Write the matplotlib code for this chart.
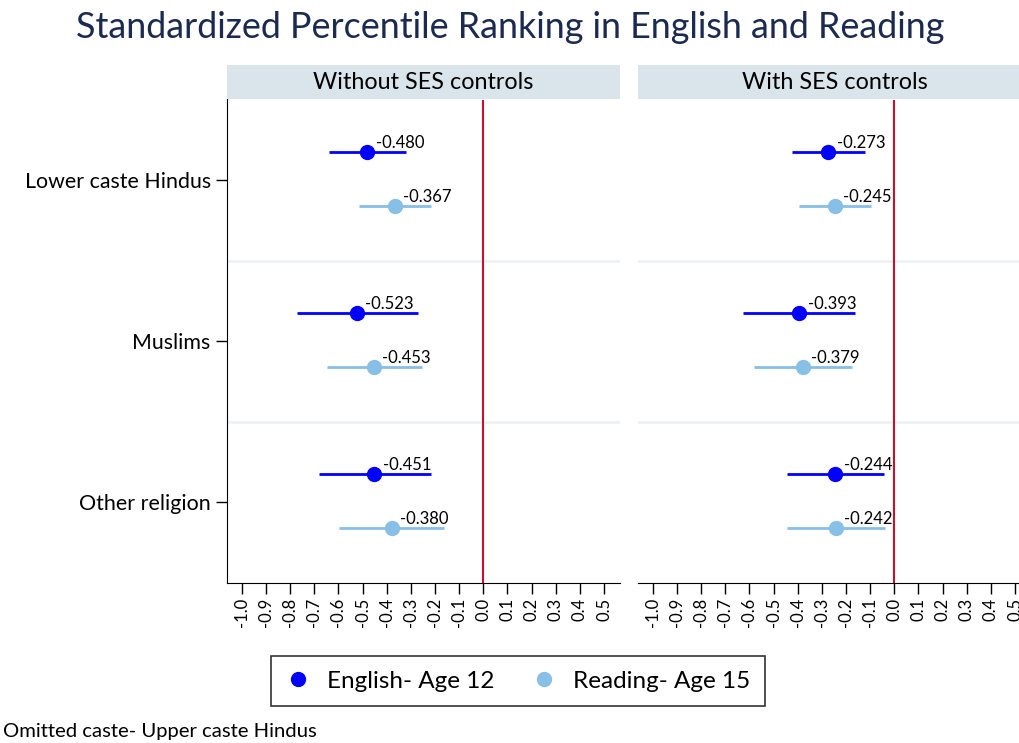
import numpy as np
import matplotlib.pyplot as plt
from matplotlib.lines import Line2D

plt.rcParams['font.family'] = ['Lato', 'DejaVu Sans']

groups = ['Lower caste Hindus', 'Muslims', 'Other religion']
panels = ['Without SES controls', 'With SES controls']

# point estimates and CI bounds, per panel: [lower caste, muslims, other]
english_est = [[-0.480, -0.523, -0.451], [-0.273, -0.393, -0.244]]
english_lo = [[-0.637, -0.772, -0.681], [-0.423, -0.625, -0.446]]
english_hi = [[-0.321, -0.271, -0.216], [-0.121, -0.161, -0.043]]
reading_est = [[-0.367, -0.453, -0.380], [-0.245, -0.379, -0.242]]
reading_lo = [[-0.514, -0.648, -0.596], [-0.393, -0.582, -0.446]]
reading_hi = [[-0.216, -0.255, -0.161], [-0.097, -0.177, -0.039]]

xticks = np.round(np.arange(-1.0, 0.51, 0.1), 1)

c_eng = '#0000ff'
c_read = '#87bfe6'
W, H = 1020, 743


def px(x0, y0, x1, y1):
    # pixel box -> figure fraction rect
    return [x0 / W, 1 - y1 / H, (x1 - x0) / W, (y1 - y0) / H]


def main():
    fig = plt.figure(figsize=(W / 100, H / 100), dpi=100)
    fig.text(0.5, 1 - 28 / H, 'Standardized Percentile Ranking in English and Reading',
             ha='center', va='center', fontsize=25.8, color='#1b2a50')

    lefts = [227.3, 638.3]
    for p in range(2):
        x0 = lefts[p]
        ax = fig.add_axes(px(x0, 99.5, x0 + 392.7, 582.7))
        hdr = fig.add_axes(px(x0, 65, x0 + 392.7, 99.3))
        hdr.set_facecolor('#dae5eb')
        hdr.set_xticks([])
        hdr.set_yticks([])
        for s in hdr.spines.values():
            s.set_visible(False)
        hdr.text(0.5, 0.48, panels[p], ha='center', va='center', fontsize=16.8,
                 transform=hdr.transAxes)

        yc = np.arange(3)
        ye = yc - 0.175
        yr = yc + 0.16
        ax.axhline(0.5, color='#eef2f4', lw=2, zorder=0)
        ax.axhline(1.5, color='#eef2f4', lw=2, zorder=0)
        ax.axvline(0, color='#c8102e', lw=1.5, zorder=1)
        ax.hlines(ye, english_lo[p], english_hi[p], color=c_eng, lw=2, zorder=2)
        ax.hlines(yr, reading_lo[p], reading_hi[p], color=c_read, lw=2, zorder=2)
        ax.plot(english_est[p], ye, 'o', color=c_eng, ms=10, zorder=3)
        ax.plot(reading_est[p], yr, 'o', color=c_read, ms=10, zorder=3)
        for i in range(3):
            ax.annotate('%.3f' % english_est[p][i], (english_est[p][i], ye[i]),
                        xytext=(6, 3), textcoords='offset points', fontsize=12)
            ax.annotate('%.3f' % reading_est[p][i], (reading_est[p][i], yr[i]),
                        xytext=(6, 3), textcoords='offset points', fontsize=12)

        ax.set_xlim(-1.06, 0.566)
        ax.set_ylim(2.5, -0.5)
        ax.set_xticks(xticks)
        ax.set_xticklabels(['%.1f' % abs(v) if v == 0 else '%.1f' % v for v in xticks],
                           rotation=90, fontsize=12)
        ax.tick_params(axis='x', length=8, width=1, pad=3)
        ax.spines['top'].set_visible(False)
        ax.spines['right'].set_visible(False)
        if p == 0:
            ax.set_yticks(yc)
            ax.set_yticklabels(groups, fontsize=15.4)
            ax.tick_params(axis='y', length=8, width=1, pad=4)
        else:
            ax.set_yticks([])
            ax.spines['left'].set_visible(False)

    handles = [Line2D([], [], marker='o', ls='', color=c_eng, ms=10),
               Line2D([], [], marker='o', ls='', color=c_read, ms=10)]
    leg = fig.legend(handles, ['English- Age 12', 'Reading- Age 15'], ncol=2,
                     loc='center', bbox_to_anchor=(518 / W, 1 - 681 / H),
                     fontsize=17.5, frameon=True, fancybox=False, edgecolor='black',
                     handlelength=1.0, handletextpad=0.7, columnspacing=1.5,
                     borderpad=0.6)
    leg.get_frame().set_linewidth(1.2)

    fig.text(3 / W, 1 - 731 / H, 'Omitted caste- Upper caste Hindus', ha='left',
             va='center', fontsize=14.6)

    plt.savefig('out.png', dpi=100)


if __name__ == '__main__':
    main()
